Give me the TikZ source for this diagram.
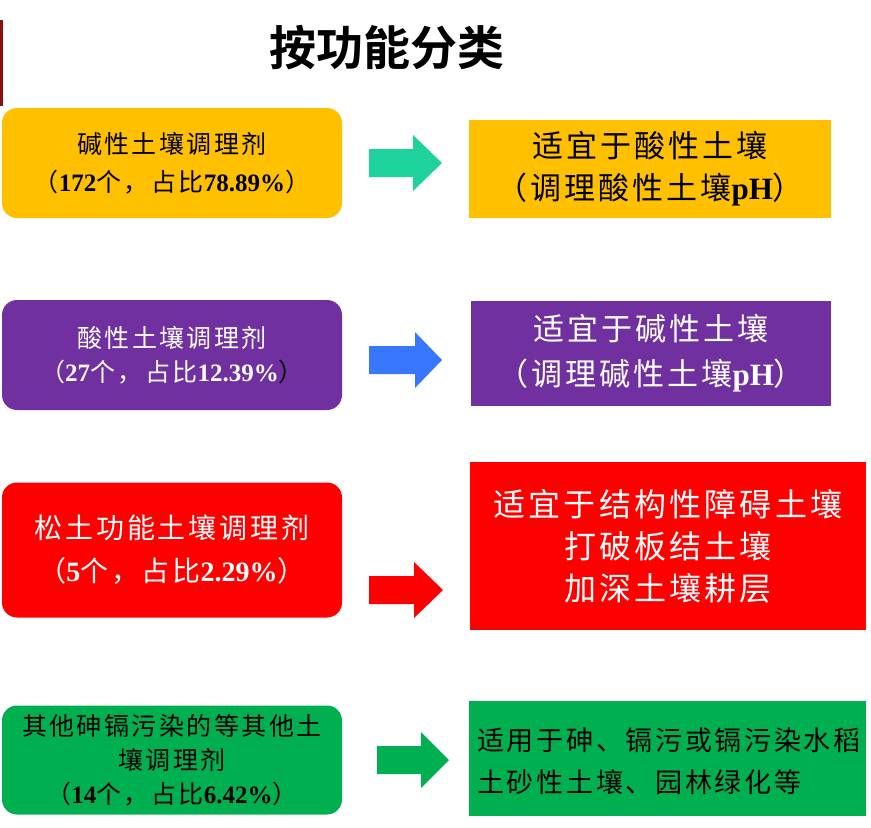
\documentclass[tikz,border=0pt]{standalone}
\usepackage{fontspec}
\setmainfont{Noto Sans CJK SC}[LetterSpace=10]
\newfontfamily\heiti{Noto Sans CJK SC}[BoldFont={Noto Sans CJK SC Bold}]
\newfontfamily\tnr{Liberation Serif}
\newcommand\nm[1]{{\tnr\bfseries #1}}
\definecolor{yel}{HTML}{FFC000}
\definecolor{pur}{HTML}{7030A0}
\definecolor{rd}{HTML}{FF0000}
\definecolor{grn}{HTML}{00B050}
\definecolor{teal}{HTML}{1DD39B}
\definecolor{blu}{HTML}{3777FF}
\definecolor{dred}{HTML}{8B1010}
\tikzset{
  lbox/.style={rounded corners=15pt, inner sep=0pt, align=center, minimum width=340pt},
  rbox/.style={inner sep=0pt, align=center},
}
\newcommand\blockarrow[5]{% x0, xbase, xtip, cy, color
  \fill[#5] (#1,#4-14) -- (#2,#4-14) -- (#2,#4-28) -- (#3,#4) -- (#2,#4+28) -- (#2,#4+14) -- (#1,#4+14) -- cycle;}
\begin{document}
\begin{tikzpicture}[x=1pt,y=-1pt]
\useasboundingbox (0,0) rectangle (871,828);
\fill[dred] (0,20) rectangle (2.5,106);
\node[font=\heiti\bfseries\fontsize{47}{50}\selectfont] (title) at (387,48) {按功能分类};
% row 1
\node[lbox, fill=yel, minimum height=110pt, font=\fontsize{25}{38}\selectfont] (l1) at (172,163)
  {碱性土壤调理剂\\（\nm{172}个，占比\nm{78.89\%}）};
\blockarrow{369}{413}{442}{163}{teal}
\node[rbox, fill=yel, minimum width=362pt, minimum height=98pt, font=\fontsize{31}{42}\selectfont] (r1) at (650,169)
  {适宜于酸性土壤\\（调理酸性土壤\nm{pH}）};
% row 2
\node[lbox, fill=pur, text=white, minimum height=110pt, font=\fontsize{25}{34}\selectfont] (l2) at (172,355)
  {酸性土壤调理剂\\（\nm{27}个，占比\nm{12.39\%}\textcolor{black}{）}};
\blockarrow{369}{415}{442}{360}{blu}
\node[rbox, fill=pur, text=white, minimum width=360pt, minimum height=105pt, font=\fontsize{31}{45}\selectfont] (r2) at (651,353)
  {适宜于碱性土壤\\（调理碱性土壤\nm{pH}）};
% row 3
\node[lbox, fill=rd, text=white, minimum height=135pt, font=\fontsize{28}{43}\selectfont] (l3) at (172,550)
  {松土功能土壤调理剂\\（\nm{5}个，占比\nm{2.29\%}）};
\blockarrow{369}{414}{443}{590}{rd}
\node[rbox, fill=rd, text=white, minimum width=396pt, minimum height=168pt, font=\fontsize{32}{42}\selectfont] (r3) at (668,546)
  {适宜于结构性障碍土壤\\打破板结土壤\\加深土壤耕层};
% row 4
\node[lbox, fill=grn, minimum height=109pt, font=\fontsize{25}{34}\selectfont] (l4) at (172,760)
  {其他砷镉污染的等其他土\\壤调理剂\\（\nm{14}个，占比\nm{6.42\%}）};
\blockarrow{377}{421}{449}{760}{grn}
\node[rbox, fill=grn, minimum width=397pt, minimum height=115pt] (r4) at (667.5,758.5) {};
\node[anchor=west, align=left, inner sep=0pt, font=\fontsize{27}{42}\selectfont] (r4t) at (477,761)
  {适用于砷、镉污或镉污染水稻\\土砂性土壤、园林绿化等};
\end{tikzpicture}
\end{document}
